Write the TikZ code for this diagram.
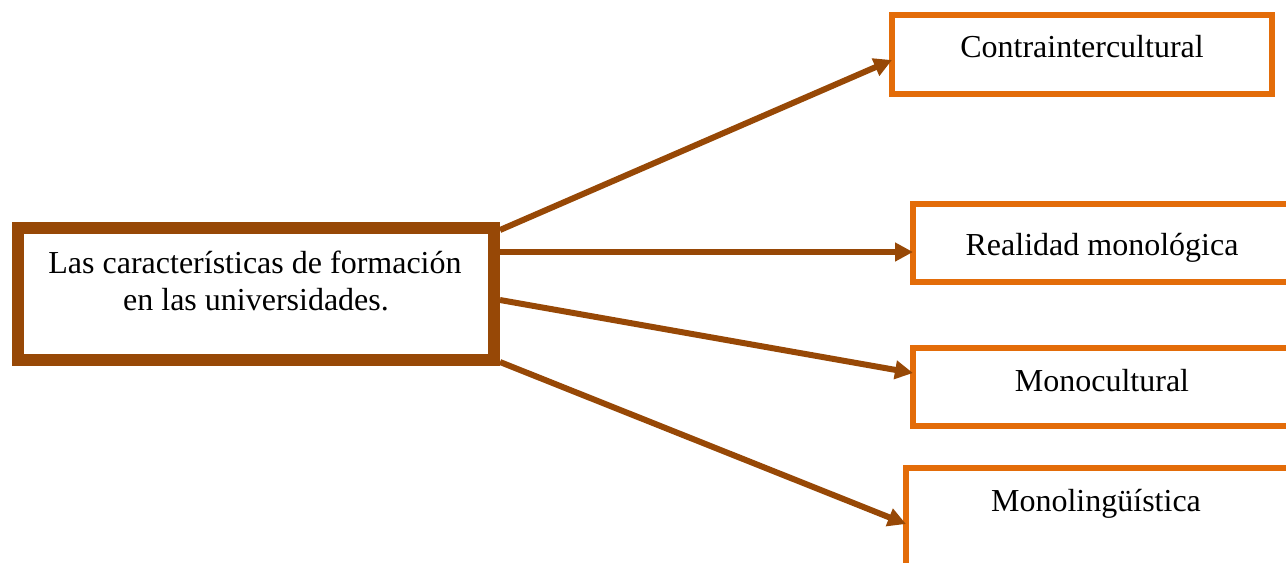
\documentclass[tikz,border=0pt]{standalone}
\usepackage{fontspec}
\setmainfont{Liberation Serif}
\usetikzlibrary{arrows.meta,calc}
\definecolor{rootbrown}{RGB}{151,72,6}
\definecolor{leaforange}{RGB}{227,108,9}
\tikzset{
  rootbox/.style={draw=rootbrown, line width=9pt, fill=white, rectangle, inner sep=0pt,
                  outer sep=0pt, minimum width=357pt, minimum height=99pt},
  leafbox/.style={draw=leaforange, line width=4.5pt, fill=white, rectangle, inner sep=0pt,
                  outer sep=0pt},
  label/.style={font=\fontsize{24pt}{27pt}\selectfont, inner sep=0pt, anchor=base},
  link/.style={draw=rootbrown, line width=4.5pt,
               -{Triangle[length=13.5pt, width=13.5pt]}},
}
\begin{document}
\begin{tikzpicture}[x=0.75pt, y=-0.75pt]
  \useasboundingbox (0,0) rectangle (1286,562);
  \clip (0,0) rectangle (1286,562);

  % main box
  \node[rootbox] (b0) at (256,294) {};
  \node[label] (t0a) at (255,273) {Las características de formación};
  \node[label] (t0b) at (256,310) {en las universidades.};

  % target boxes
  \node[leafbox, minimum width=285pt, minimum height=59.25pt] (b1) at (1082,54.5) {};
  \node[label] (t1) at (1082,57) {Contraintercultural};

  \node[leafbox, minimum width=290.25pt, minimum height=58.5pt] (b2) at (1106.5,243) {};
  \node[label] (t2) at (1102,255) {Realidad monológica};

  \node[leafbox, minimum width=290.25pt, minimum height=58.5pt] (b3) at (1106.5,387) {};
  \node[label] (t3) at (1102,391) {Monocultural};

  \node[leafbox, minimum width=295.5pt, minimum height=91.5pt] (b4) at (1103,529) {};
  \node[label] (t4) at (1096,511) {Monolingüística};

  % connectors
  \draw[link] ($(b0.north east)+(6,2)$)  -- ($(b1.north west)+(0,45)$);
  \draw[link] ($(b0.north east)+(6,24)$) -- ($(b2.north west)+(0,48)$);
  \draw[link] ($(b0.north east)+(6,72)$) -- ($(b3.north west)+(0,25)$);
  \draw[link] ($(b0.south east)+(6,2)$)  -- ($(b4.north west)+(0,56)$);
\end{tikzpicture}
\end{document}
